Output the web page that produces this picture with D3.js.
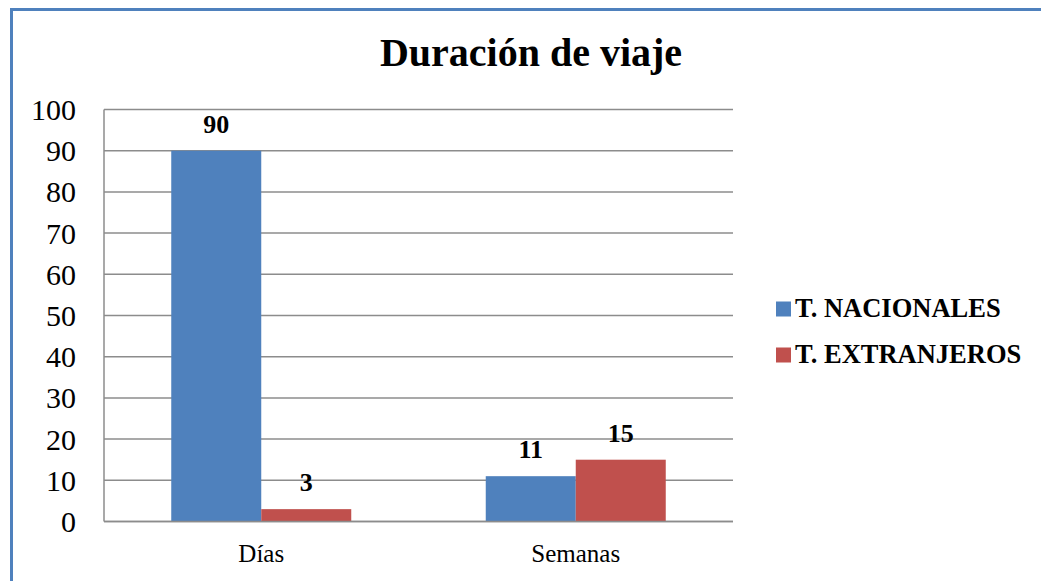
<!DOCTYPE html>
<html>
<head>
<meta charset="utf-8">
<script src="https://cdn.jsdelivr.net/npm/d3@7"></script>
</head>
<body style="margin:0;overflow:hidden;background:#fff">
<svg id="chart" width="1041" height="581" style="display:block"></svg>
<script>
const categories = ["Días", "Semanas"];
const seriesNames = ["T. NACIONALES", "T. EXTRANJEROS"];
const nacionales = [90, 11];
const extranjeros = [3, 15];
const yTicks = [0, 10, 20, 30, 40, 50, 60, 70, 80, 90, 100];
const title = "Duración de viaje";
const colors = ["#4F81BD", "#C0504D"];

const seriesValues = [nacionales, extranjeros];
const svg = d3.select("#chart");
const W = 1041, H = 581;
const FAM = "Liberation Serif";

// border (only top and left visible)
svg.append("rect")
  .attr("x", 11.5).attr("y", 9.5)
  .attr("width", W + 50).attr("height", H + 50)
  .attr("fill", "#fff")
  .attr("stroke", "#4F81BD").attr("stroke-width", 3);

const plot = { left: 104, right: 733, top: 109.5, bottom: 521.5 };

const x0 = d3.scaleBand().domain(categories).range([plot.left, plot.right]).paddingInner(0).paddingOuter(0);
const innerPad = (x0.bandwidth() - 180) / 2;
const x1 = d3.scaleBand().domain(seriesNames).range([innerPad, x0.bandwidth() - innerPad]).padding(0);
const y = d3.scaleLinear().domain([0, 100]).range([plot.bottom, plot.top]);

// gridlines
svg.append("g").selectAll("line").data(yTicks).join("line")
  .attr("x1", plot.left).attr("x2", plot.right)
  .attr("y1", d => y(d)).attr("y2", d => y(d))
  .attr("stroke", "#8c8c8c").attr("stroke-width", 1.5);

// y axis line
svg.append("line")
  .attr("x1", plot.left).attr("x2", plot.left)
  .attr("y1", plot.top).attr("y2", plot.bottom)
  .attr("stroke", "#8c8c8c").attr("stroke-width", 1.5);

// y tick labels
svg.append("g").selectAll("text").data(yTicks).join("text")
  .attr("x", 76).attr("y", d => y(d))
  .attr("dy", "0.35em")
  .attr("text-anchor", "end")
  .style("font-family", FAM).style("font-size", "30px")
  .attr("fill", "#000")
  .text(d => d);

// bars
const groups = svg.append("g").selectAll("g").data(categories).join("g")
  .attr("transform", c => `translate(${x0(c)},0)`);

groups.selectAll("rect")
  .data((c, ci) => seriesNames.map((s, si) => ({ s, si, v: seriesValues[si][ci] })))
  .join("rect")
  .attr("x", d => x1(d.s))
  .attr("width", x1.bandwidth())
  .attr("y", d => y(d.v))
  .attr("height", d => y(0) - y(d.v))
  .attr("fill", d => colors[d.si]);

groups.selectAll("text")
  .data((c, ci) => seriesNames.map((s, si) => ({ s, si, v: seriesValues[si][ci] })))
  .join("text")
  .attr("x", d => x1(d.s) + x1.bandwidth() / 2)
  .attr("y", d => y(d.v) - 18)
  .attr("text-anchor", "middle")
  .style("font-family", FAM).style("font-weight", "bold").style("font-size", "26px")
  .attr("fill", "#000")
  .text(d => d.v);

// bottom axis line
svg.append("line")
  .attr("x1", plot.left).attr("x2", plot.right)
  .attr("y1", plot.bottom).attr("y2", plot.bottom)
  .attr("stroke", "#8c8c8c").attr("stroke-width", 1.5);

// category labels
svg.append("g").selectAll("text").data(categories).join("text")
  .attr("x", c => x0(c) + x0.bandwidth() / 2)
  .attr("y", 562)
  .attr("text-anchor", "middle")
  .style("font-family", FAM).style("font-size", "25px")
  .attr("fill", "#000")
  .text(c => c);

// title
svg.append("text")
  .attr("x", 531).attr("y", 66)
  .attr("text-anchor", "middle")
  .style("font-family", FAM).style("font-weight", "bold").style("font-size", "40px")
  .attr("fill", "#000")
  .text(title);

// legend
const legend = svg.append("g").selectAll("g").data(seriesNames).join("g")
  .attr("transform", (d, i) => `translate(776, ${309 + i * 46})`);
legend.append("rect")
  .attr("x", 0).attr("y", -7.5).attr("width", 15).attr("height", 15)
  .attr("fill", (d, i) => colors[i]);
legend.append("text")
  .attr("x", 19).attr("y", 8)
  .style("font-family", FAM).style("font-weight", "bold").style("font-size", "26.5px")
  .attr("fill", "#000")
  .text(d => d);
</script>
</body>
</html>
